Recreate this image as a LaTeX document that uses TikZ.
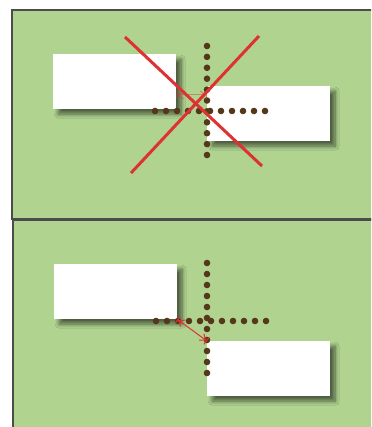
\documentclass[tikz,border=0pt]{standalone}
\usepackage{xcolor}
\usetikzlibrary{shadows.blur,arrows.meta}
\definecolor{leaf}{RGB}{176,212,144}
\definecolor{bark}{RGB}{85,55,25}
\definecolor{crossred}{RGB}{222,50,50}
\tikzset{
  panel/.style={fill=leaf,draw=black!70,line width=1.8pt},
  card/.style={fill=white,inner sep=0pt,minimum width=123pt,minimum height=55pt,anchor=north west,
    blur shadow={shadow xshift=5pt,shadow yshift=-5pt,shadow blur steps=10,shadow blur radius=4pt,shadow opacity=55}},
  gap/.style={draw=crossred,line width=1pt,{Bar[width=9pt,line width=1pt]Straight Barb[length=5pt,width=8pt,line width=1pt]}-{Straight Barb[length=5pt,width=8pt,line width=1pt]Bar[width=9pt,line width=1pt]}}
}
\begin{document}
\begin{tikzpicture}[x=1pt,y=-1pt]
\useasboundingbox (0,0) rectangle (371,427);
\clip (0,0) rectangle (371,427);
% Panels
\draw[panel] (12,10) rectangle (390,219);
\draw[panel] (13,220) rectangle (390,440);
% Top: boxes too close
\node[card] (a1) at (53,54) {};
\node[card] (b1) at (207,86) {};
\foreach \i in {0,...,10} {\fill[bark] (207,46+10.9*\i) circle (3.3pt);}
\foreach \i in {0,...,10} {\fill[bark] (155+11*\i,111) circle (3.3pt);}
\coordinate (m1) at (0,95);
\draw[gap,opacity=0.45] (a1.east |- m1) -- (b1.west |- m1);
% Red cross
\draw[crossred,line width=3pt] (125,37) -- (262,166);
\draw[crossred,line width=3pt] (259,36) -- (131,173);
% Bottom: boxes kept apart
\node[card] (a2) at (54,264) {};
\node[card] (b2) at (207,341) {};
\foreach \i in {0,...,10} {\fill[bark] (207,263+11*\i) circle (3.3pt);}
\foreach \i in {0,...,10} {\fill[bark] (156+11*\i,321) circle (3.3pt);}
\draw[gap] (a2.south east) -- (b2.north west);
\end{tikzpicture}
\end{document}
